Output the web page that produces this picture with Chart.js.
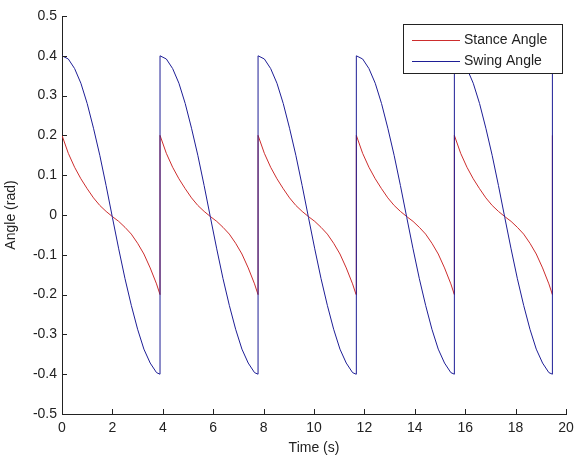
<!DOCTYPE html>
<html>
<head>
<meta charset="utf-8">
<script src="https://cdn.jsdelivr.net/npm/chart.js@4.4.1/dist/chart.umd.min.js"></script>
<style>
  html, body { margin: 0; padding: 0; background: #fff; }
  canvas { display: block; }
</style>
</head>
<body>
<canvas id="chart" width="576" height="459"></canvas>
<script>
// time (s) at which each gait cycle starts (the last entry only closes the final jump)
const cycleStarts = [0, 3.89, 7.78, 11.68, 15.57, 19.46];
// time within one cycle
const phase = [0, 0.25, 0.5, 0.75, 1.0, 1.25, 1.5, 1.75, 2.0, 2.25, 2.5, 2.75, 3.0, 3.25, 3.5, 3.75, 3.89];
// angles
const stanceAngle = [0.200, 0.155, 0.120, 0.091, 0.066, 0.043, 0.024, 0.009, -0.004, -0.016, -0.031, -0.048, -0.071, -0.098, -0.133, -0.173, -0.200];
const swingAngle = [0.400, 0.392, 0.368, 0.331, 0.280, 0.218, 0.150, 0.074, -0.006, -0.085, -0.160, -0.227, -0.287, -0.337, -0.372, -0.396, -0.400];

const xTicks = [0, 2, 4, 6, 8, 10, 12, 14, 16, 18, 20];
const yTicks = [-0.5, -0.4, -0.3, -0.2, -0.1, 0, 0.1, 0.2, 0.3, 0.4, 0.5];
const yTickLabels = ['-0.5', '-0.4', '-0.3', '-0.2', '-0.1', '0', '0.1', '0.2', '0.3', '0.4', '0.5'];

const seriesNames = ['Stance Angle', 'Swing Angle'];
const seriesColors = ['rgb(205,45,45)', 'rgb(30,30,150)'];

function buildPoints(values) {
  const pts = [];
  cycleStarts.forEach((start, c) => {
    const last = c === cycleStarts.length - 1;
    phase.forEach((p, i) => {
      if (last && i > 0) return;
      pts.push({ x: +(start + p).toFixed(3), y: values[i] });
    });
  });
  return pts;
}

const FONT = { family: '"Liberation Sans", Arial, sans-serif', size: 14 };
const TEXT = '#222';

// MATLAB style ticks pointing into the plot
const innerTicks = {
  id: 'innerTicks',
  afterDatasetsDraw(chart) {
    const { ctx, chartArea: a, scales: { x, y } } = chart;
    ctx.save();
    ctx.strokeStyle = '#222';
    ctx.lineWidth = 1;
    ctx.beginPath();
    xTicks.forEach(v => {
      const px = Math.round(x.getPixelForValue(v)) + 0.5;
      ctx.moveTo(px, a.bottom);
      ctx.lineTo(px, a.bottom - 5);
    });
    yTicks.forEach(v => {
      const py = Math.round(y.getPixelForValue(v)) + 0.5;
      ctx.moveTo(a.left, py);
      ctx.lineTo(a.left + 5, py);
    });
    ctx.stroke();
    ctx.restore();
  }
};

// boxed legend in the upper right corner
const boxLegend = {
  id: 'boxLegend',
  afterDraw(chart) {
    const { ctx } = chart;
    const bx = 403.5, by = 24.5, bw = 159, bh = 49;
    ctx.save();
    ctx.fillStyle = '#fff';
    ctx.fillRect(bx, by, bw, bh);
    ctx.strokeStyle = '#222';
    ctx.lineWidth = 1;
    ctx.strokeRect(bx, by, bw, bh);
    ctx.font = `${FONT.size}px ${FONT.family}`;
    ctx.textBaseline = 'middle';
    chart.data.datasets.forEach((ds, i) => {
      const ly = Math.round(40 + i * 21) + 0.5;
      ctx.strokeStyle = ds.borderColor;
      ctx.beginPath();
      ctx.moveTo(412, ly);
      ctx.lineTo(460, ly);
      ctx.stroke();
      ctx.fillStyle = TEXT;
      ctx.fillText(ds.label, 464, ly);
    });
    ctx.restore();
  }
};

new Chart(document.getElementById('chart'), {
  type: 'line',
  data: {
    datasets: [
      {
        label: seriesNames[0],
        data: buildPoints(stanceAngle),
        borderColor: seriesColors[0],
        borderWidth: 1,
        pointRadius: 0,
        tension: 0,
        order: 1
      },
      {
        label: seriesNames[1],
        data: buildPoints(swingAngle),
        borderColor: seriesColors[1],
        borderWidth: 1,
        pointRadius: 0,
        tension: 0,
        order: 0
      }
    ]
  },
  options: {
    responsive: false,
    animation: false,
    devicePixelRatio: 1,
    layout: { padding: { top: 16, right: 10, bottom: 0, left: 0 } },
    plugins: {
      legend: { display: false },
      tooltip: { enabled: false }
    },
    scales: {
      x: {
        type: 'linear',
        min: 0,
        max: 20,
        grid: { display: false, drawTicks: false },
        border: { display: true, color: '#222', width: 1 },
        afterBuildTicks: (scale) => { scale.ticks = xTicks.map(v => ({ value: v })); },
        afterFit: (scale) => {
          scale.height = 45;
          scale.paddingLeft = 0;
          scale.paddingRight = 0;
        },
        ticks: { color: TEXT, font: FONT, padding: 6, maxRotation: 0 },
        title: { display: true, text: 'Time (s)', color: TEXT, font: FONT, padding: { top: 0, bottom: 2 } }
      },
      y: {
        type: 'linear',
        min: -0.5,
        max: 0.5,
        grid: { display: false, drawTicks: false },
        border: { display: true, color: '#222', width: 1 },
        afterBuildTicks: (scale) => { scale.ticks = yTicks.map(v => ({ value: v })); },
        afterFit: (scale) => {
          scale.width = 62;
          scale.paddingTop = 0;
          scale.paddingBottom = 0;
        },
        ticks: {
          color: TEXT,
          font: FONT,
          padding: 5,
          callback: (value, index) => yTickLabels[index]
        },
        title: { display: true, text: 'Angle (rad)', color: TEXT, font: FONT, padding: { top: 3, bottom: 0 } }
      }
    }
  },
  plugins: [innerTicks, boxLegend]
});
</script>
</body>
</html>
